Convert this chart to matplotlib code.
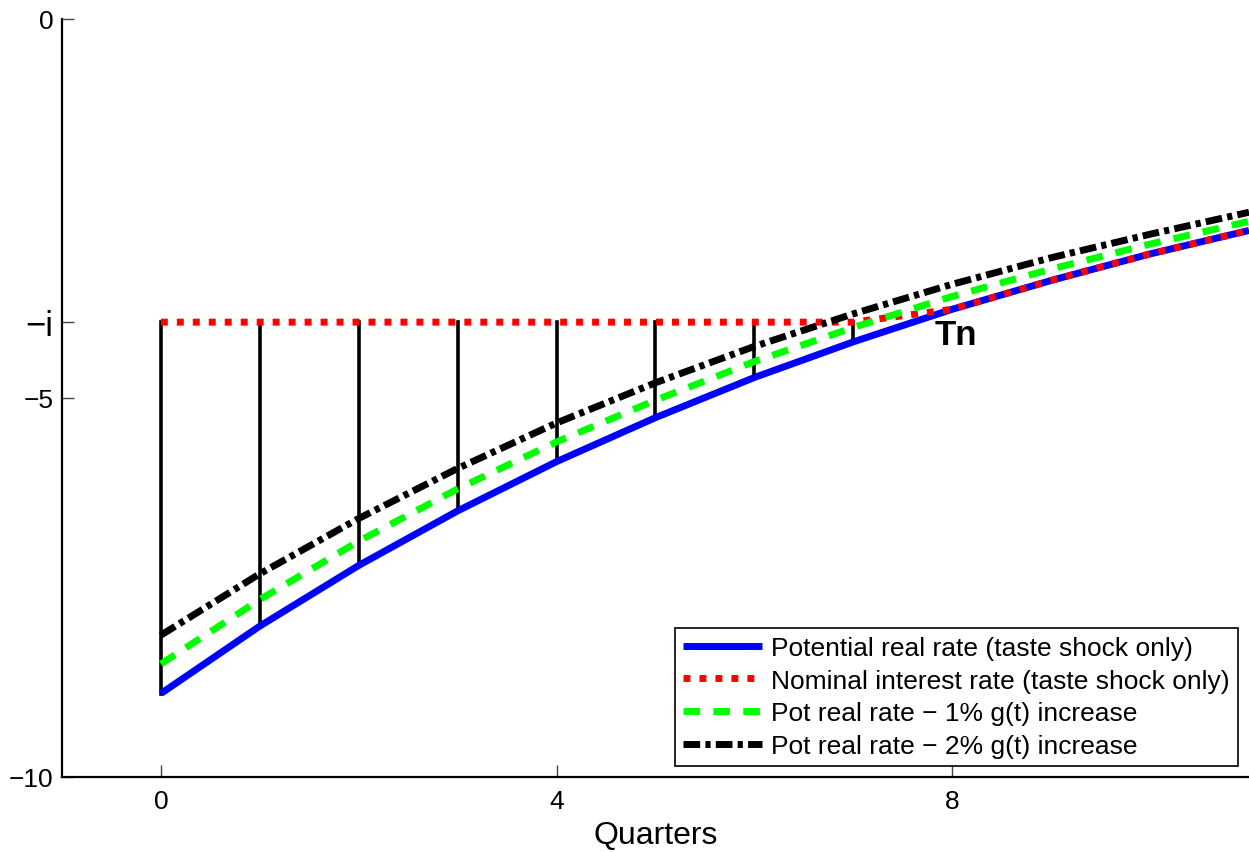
import matplotlib
matplotlib.use('Agg')
import matplotlib.pyplot as plt

plt.rcParams['font.family'] = ['Liberation Sans', 'DejaVu Sans']

quarters = [0, 1, 2, 3, 4, 5, 6, 7, 8, 9, 10, 11]
pot_real = [-8.90, -8.01, -7.21, -6.49, -5.84, -5.26, -4.73, -4.26, -3.83, -3.45, -3.10, -2.79]
nominal = [-4.0, -4.0, -4.0, -4.0, -4.0, -4.0, -4.0, -4.0, -3.83, -3.45, -3.10, -2.79]
pot_g1 = [-8.51, -7.66, -6.89, -6.20, -5.58, -5.03, -4.52, -4.07, -3.66, -3.30, -2.97, -2.67]
pot_g2 = [-8.13, -7.32, -6.59, -5.93, -5.33, -4.80, -4.32, -3.89, -3.50, -3.15, -2.84, -2.55]

gap_quarters = [0, 1, 2, 3, 4, 5, 6, 7]
ytick_vals = [-10, -5, -4, 0]
ytick_labels = ['\u221210', '\u22125', '\u2212i', '0']
xtick_vals = [0, 4, 8]

fig = plt.figure(figsize=(12.49, 8.53), dpi=100)
ax = fig.add_axes([0.0496, 0.088, 0.9504, 0.8886])

# vertical gaps between nominal rate and potential real rate
for q in gap_quarters:
    ax.plot([q, q], [nominal[q], pot_real[q]], color='black', lw=2.6, zorder=1)

ax.plot(quarters, pot_real, color='#0000ff', lw=5, solid_capstyle='butt',
        label='Potential real rate (taste shock only)', zorder=2)
ax.plot(quarters, nominal, color='#ff0000', lw=5, linestyle=(0, (1, 1.3)),
        label='Nominal interest rate (taste shock only)', zorder=3)
ax.plot(quarters, pot_g1, color='#00ff00', lw=5, linestyle=(0, (2.4, 1.9)),
        label='Pot real rate \u2212 1% g(t) increase', zorder=3)
ax.plot(quarters, pot_g2, color='black', lw=5, linestyle=(0, (2.4, 0.75, 0.75, 0.75)),
        label='Pot real rate \u2212 2% g(t) increase', zorder=3)

ax.text(7.82, -4.29, 'Tn', fontsize=25, fontweight='bold', ha='left', va='baseline')

ax.set_xlim(-1, 11)
ax.set_ylim(-10, 0)
ax.set_xticks(xtick_vals)
ax.set_yticks(ytick_vals)
ax.set_yticklabels(ytick_labels)
ax.tick_params(direction='in', length=8.5, width=1, color='#444444', labelsize=19, pad=6)
ax.tick_params(axis='x', pad=9)
for lbl in ax.get_yticklabels():
    if lbl.get_text() == '\u2212i':
        lbl.set_fontsize(25)
for s in ['top', 'right']:
    ax.spines[s].set_visible(False)
for s in ['left', 'bottom']:
    ax.spines[s].set_linewidth(1.6)

ax.set_xlabel('Quarters', fontsize=23, labelpad=5)

leg = ax.legend(loc='lower right', fontsize=19, handlelength=3.0, handletextpad=0.34,
                labelspacing=0.33, borderpad=0.3, fancybox=False, framealpha=1,
                borderaxespad=0.42)
leg.get_frame().set_edgecolor('black')
leg.get_frame().set_linewidth(1.2)

fig.savefig('out.png', dpi=100)
